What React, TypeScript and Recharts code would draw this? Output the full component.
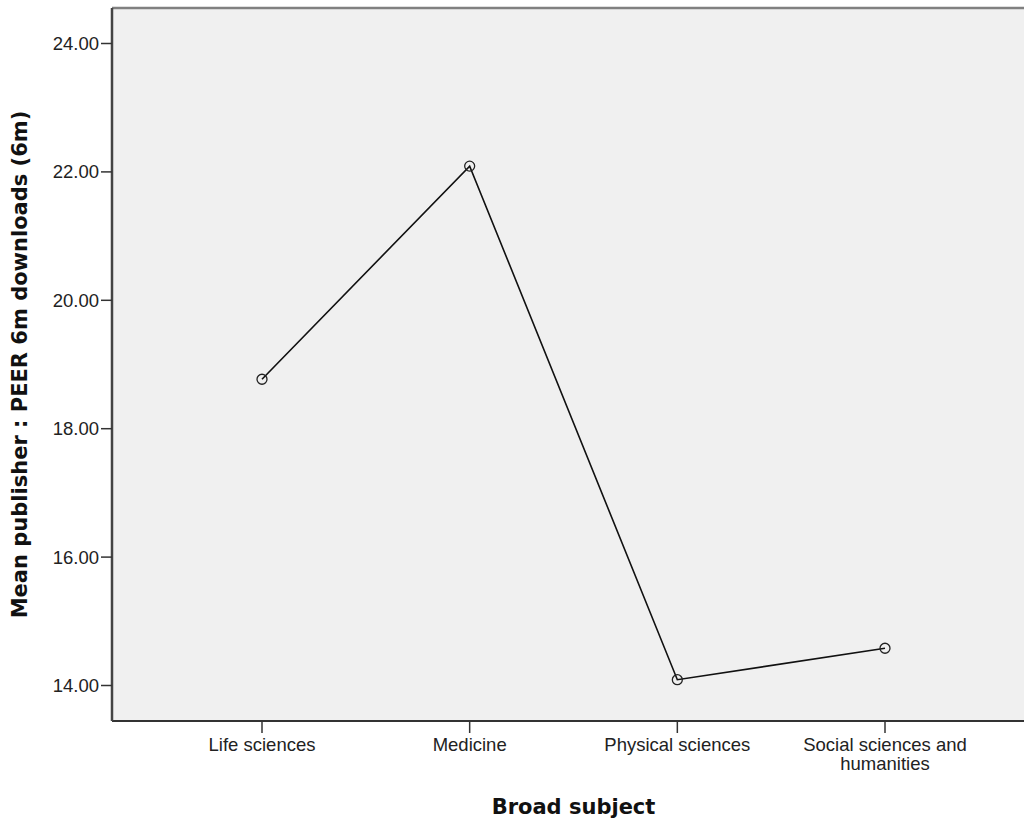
import React from "react";
import {
  LineChart,
  Line,
  XAxis,
  YAxis,
  CartesianGrid,
  ReferenceLine,
} from "recharts";

const subjects = [
  "Life sciences",
  "Medicine",
  "Physical sciences",
  "Social sciences and humanities",
];
const meanDownloads = [18.77, 22.09, 14.09, 14.58];
const yTicks = [14, 16, 18, 20, 22, 24];
const yDomain = [13.447, 24.553];

const data = subjects.map((subject, i) => ({ subject, mean: meanDownloads[i] }));

const tickFont = "'Liberation Sans', Arial, sans-serif";
const titleFont = "'DejaVu Sans', Verdana, sans-serif";

// split long category names over two lines, like the original
function wrap(label: string, max: number) {
  const lines: string[] = [];
  let cur = "";
  label.split(" ").forEach((w) => {
    const next = cur ? cur + " " + w : w;
    if (next.length > max && cur) {
      lines.push(cur);
      cur = w;
    } else {
      cur = next;
    }
  });
  if (cur) lines.push(cur);
  return lines;
}

function SubjectTick(props: any) {
  const { x, y, payload } = props;
  const lines = wrap(payload.value, 20);
  return (
    <text
      x={x}
      y={y}
      textAnchor="middle"
      fill="#222"
      fontFamily={tickFont}
      fontSize={18.5}
    >
      {lines.map((l, i) => (
        <tspan key={i} x={x} dy={i === 0 ? "0.71em" : "1em"}>
          {l}
        </tspan>
      ))}
    </text>
  );
}

export default function App() {
  return (
    <div
      style={{
        position: "absolute",
        left: 0,
        top: 0,
        width: 1024,
        height: 823,
        overflow: "hidden",
        background: "#fff",
      }}
    >
      <LineChart
        width={1040}
        height={823}
        data={data}
        margin={{ top: 8, right: 5, bottom: 0, left: 0 }}
      >
        <CartesianGrid fill="#f0f0f0" horizontal={false} vertical={false} />
        <ReferenceLine y={yDomain[1]} stroke="#808080" strokeWidth={2.5} />
        <XAxis
          dataKey="subject"
          type="category"
          scale="point"
          padding={{ left: 150, right: 150 }}
          height={102}
          tickSize={12}
          tickMargin={5}
          tick={<SubjectTick />}
          tickLine={{ stroke: "#333", strokeWidth: 1.5 }}
          axisLine={{ stroke: "#333", strokeWidth: 2 }}
          label={{
            value: "Broad subject",
            position: "insideBottom",
            offset: 9,
            style: { fontFamily: titleFont, fontWeight: "bold", fontSize: 21, fill: "#111" },
          }}
        />
        <YAxis
          type="number"
          domain={yDomain}
          ticks={yTicks}
          allowDataOverflow
          width={112}
          tickSize={11}
          tickMargin={2}
          tickFormatter={(v: number) => v.toFixed(2)}
          tick={{ fill: "#222", fontFamily: tickFont, fontSize: 18.5 }}
          tickLine={{ stroke: "#333", strokeWidth: 1.5 }}
          axisLine={{ stroke: "#444", strokeWidth: 2.5 }}
          label={{
            value: "Mean publisher : PEER 6m downloads (6m)",
            angle: -90,
            position: "insideLeft",
            offset: 20,
            style: {
              textAnchor: "middle",
              fontFamily: titleFont,
              fontWeight: "bold",
              fontSize: 21,
              fill: "#111",
            },
          }}
        />
        <Line
          type="linear"
          dataKey="mean"
          stroke="#111"
          strokeWidth={1.6}
          dot={{ r: 5, stroke: "#222", strokeWidth: 1.3, fill: "none" }}
          activeDot={false}
          isAnimationActive={false}
        />
      </LineChart>
    </div>
  );
}
